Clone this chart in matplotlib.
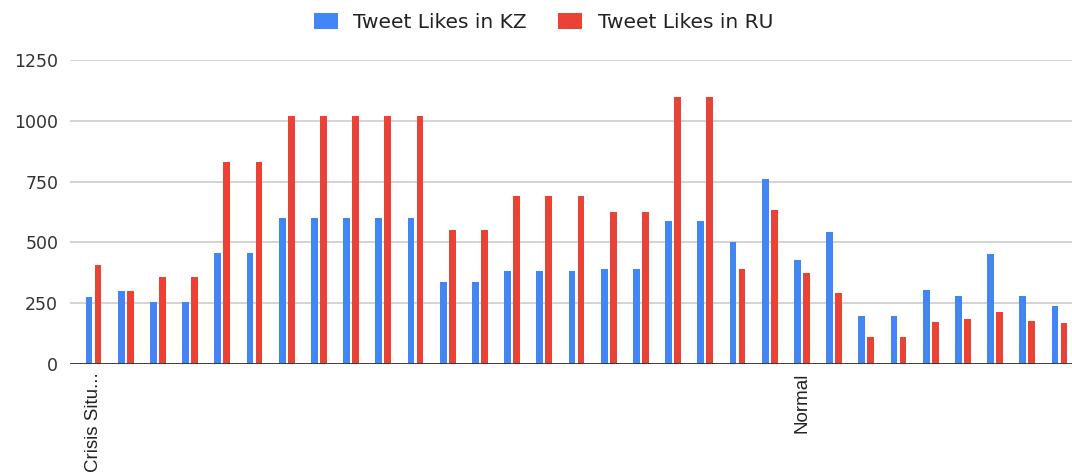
import numpy as np
import matplotlib.pyplot as plt

plt.rcParams["font.family"] = ["DejaVu Sans"]

# tweet likes per tweet, grouped by situation
likes_kz = [274, 300, 256, 256, 455, 455, 601, 601, 601, 601, 601, 338, 338, 383, 383, 383,
            390, 390, 589, 589, 504, 760, 427, 543, 198, 198, 305, 281, 452, 281, 237]
likes_ru = [408, 300, 359, 359, 830, 830, 1021, 1021, 1021, 1021, 1021, 550, 550, 690, 690, 690,
            627, 627, 1098, 1098, 390, 632, 376, 294, 110, 110, 174, 185, 216, 178, 167]
tick_pos = [0, 22]
tick_labels = ["Crisis Situ...", "Normal"]

BLUE = "#4285F4"
RED = "#EA4335"

fig = plt.figure(figsize=(10.72, 4.74), dpi=100)
ax = fig.add_axes([0.0653, 0.232, 0.9347, 0.641])

x = np.arange(len(likes_kz))
w = 0.21
ax.bar(x - 0.14, likes_kz, width=w, color=BLUE, label="Tweet Likes in KZ", zorder=3)
ax.bar(x + 0.14, likes_ru, width=w, color=RED, label="Tweet Likes in RU", zorder=3)

ax.set_xlim(-0.73, 30.39)
ax.set_ylim(0, 1250)
ax.set_yticks([0, 250, 500, 750, 1000, 1250])
ax.yaxis.grid(True, color="#cccccc", linewidth=1.2, zorder=0)
ax.axhline(0, color="#333333", linewidth=1.3, zorder=4)

ax.set_xticks(tick_pos)
ax.set_xticklabels(tick_labels, rotation=90, va="top", ha="center", fontsize=13.5,
                   color="#222222", family="Liberation Sans")
ax.tick_params(axis="x", length=0, pad=6)
ax.tick_params(axis="y", length=0, pad=8.5, labelsize=12.5, labelcolor="#333333")

for s in ax.spines.values():
    s.set_visible(False)

leg = fig.legend(loc="center", bbox_to_anchor=(0.507, 0.953), ncol=2, frameon=False,
                 fontsize=14.5, handlelength=1.2, handleheight=0.9, columnspacing=1.55,
                 handletextpad=0.75)
for t in leg.get_texts():
    t.set_color("#222222")

fig.savefig("out.png", dpi=100)
